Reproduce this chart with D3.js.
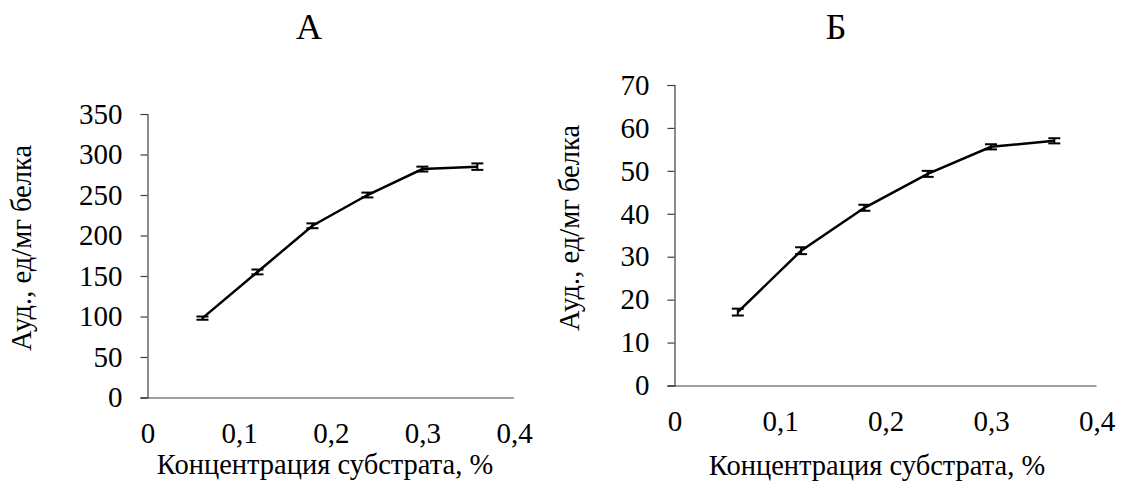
<!DOCTYPE html>
<html>
<head>
<meta charset="utf-8">
<script src="https://cdn.jsdelivr.net/npm/d3@7"></script>
<style>
  body { margin: 0; background: #fff; }
  .axis path, .axis line { stroke: #404040; stroke-width: 1.2; }
</style>
</head>
<body>
<div id="chart"></div>
<script>
// Substrate concentration, %
const conc = [0.06, 0.12, 0.18, 0.24, 0.30, 0.36];

// Panel A
const activityA = [98, 155, 212, 250, 282, 285];
const errA = [2, 3, 3, 3, 3, 4];
const yTicksA = [0, 50, 100, 150, 200, 250, 300, 350];

// Panel B
const activityB = [17.1, 31.4, 41.4, 49.3, 55.6, 57.0];
const errB = [0.8, 0.8, 0.7, 0.7, 0.6, 0.6];
const yTicksB = [0, 10, 20, 30, 40, 50, 60, 70];

const xTicks = [0, 0.1, 0.2, 0.3, 0.4];
const xTitle = 'Концентрация субстрата, %';
const yTitle = 'Ауд., ед/мг белка';

const FONT = 'Liberation Serif';

const svg = d3.select('#chart').append('svg')
    .attr('width', 1125)
    .attr('height', 482);

const fmt = d => String(d).replace('.', ',');

/**
 * Draw one panel of the figure
 * @param {object} p - panel layout and data
 */
function panel(p) {
  const x = d3.scaleLinear().domain([0, 0.4]).range([p.left, p.right]);
  const y = d3.scaleLinear().domain([0, p.yMax]).range([p.bottom, p.top]);
  const data = conc.map((c, i) => ({ c, v: p.values[i], e: p.errors[i] }));

  // y axis
  svg.append('g')
      .attr('class', 'axis')
      .attr('transform', `translate(${p.left},0)`)
      .call(d3.axisLeft(y).tickValues(p.yTicks).tickSize(7).tickPadding(18)
        .tickFormat(d => d))
      .call(g => g.selectAll('text')
        .attr('fill', '#000')
        .style('font-family', FONT)
        .style('font-size', '29px'));

  // x axis, no tick marks
  svg.append('g')
      .attr('class', 'axis')
      .attr('transform', `translate(0,${p.bottom})`)
      .call(d3.axisBottom(x).tickValues(xTicks).tickSize(0).tickPadding(p.xPad)
        .tickFormat(fmt))
      .call(g => g.select('.domain').attr('d', `M${p.left - 7},0.5H${p.right}`))
      .call(g => g.selectAll('text')
        .attr('fill', '#000')
        .style('font-family', FONT)
        .style('font-size', '29px'));

  // line
  svg.append('path')
      .datum(data)
      .attr('fill', 'none')
      .attr('stroke', '#000')
      .attr('stroke-width', 2.5)
      .attr('d', d3.line().x(d => x(d.c)).y(d => y(d.v)));

  // error bars
  const eb = svg.append('g').selectAll('g')
      .data(data)
    .enter().append('g')
      .attr('stroke', '#000')
      .attr('stroke-width', 2);
  eb.append('line')
      .attr('x1', d => x(d.c)).attr('x2', d => x(d.c))
      .attr('y1', d => y(d.v - d.e)).attr('y2', d => y(d.v + d.e));
  eb.append('line')
      .attr('x1', d => x(d.c) - 6).attr('x2', d => x(d.c) + 6)
      .attr('y1', d => y(d.v - d.e)).attr('y2', d => y(d.v - d.e));
  eb.append('line')
      .attr('x1', d => x(d.c) - 6).attr('x2', d => x(d.c) + 6)
      .attr('y1', d => y(d.v + d.e)).attr('y2', d => y(d.v + d.e));

  // titles
  svg.append('text')
      .attr('x', p.titleX).attr('y', 39)
      .attr('text-anchor', 'middle')
      .style('font-family', FONT)
      .style('font-size', '36px')
      .text(p.title);
  svg.append('text')
      .attr('x', p.xTitleX).attr('y', p.xTitleY)
      .attr('text-anchor', 'middle')
      .style('font-family', FONT)
      .style('font-size', '28.5px')
      .text(xTitle);
  svg.append('text')
      .attr('transform', `translate(${p.yTitleX},${p.yTitleY}) rotate(-90)`)
      .attr('text-anchor', 'middle')
      .style('font-family', FONT)
      .style('font-size', '28.5px')
      .text(yTitle);
}

panel({
  title: 'А', titleX: 309,
  left: 147.5, right: 514, top: 114, bottom: 397.5,
  yMax: 350, yTicks: yTicksA, values: activityA, errors: errA,
  xPad: 25, xTitleX: 325, xTitleY: 474, yTitleX: 31, yTitleY: 248
});

panel({
  title: 'Б', titleX: 836,
  left: 674.5, right: 1096.5, top: 85, bottom: 385.5,
  yMax: 70, yTicks: yTicksB, values: activityB, errors: errB,
  xPad: 24.5, xTitleX: 877, xTitleY: 475, yTitleX: 579, yTitleY: 228
});
</script>
</body>
</html>
